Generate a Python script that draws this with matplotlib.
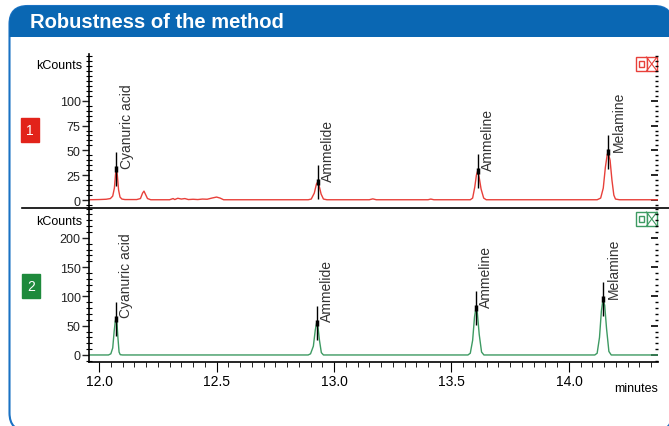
import matplotlib
matplotlib.use('Agg')
import matplotlib.pyplot as plt
from matplotlib.patches import FancyBboxPatch, Rectangle
from matplotlib.ticker import MultipleLocator

plt.rcParams['font.family'] = ['Liberation Sans', 'DejaVu Sans']

# data
peak_names = ['Cyanuric acid', 'Ammelide', 'Ammeline', 'Melamine']

t1 = [11.957, 12.00, 12.03, 12.048, 12.058, 12.065, 12.070, 12.074, 12.078, 12.083, 12.089, 12.097,
      12.110, 12.160, 12.176, 12.185, 12.191, 12.197, 12.206, 12.220, 12.300, 12.315, 12.322, 12.335,
      12.350, 12.365, 12.380, 12.400, 12.420, 12.440, 12.460, 12.480, 12.500, 12.515, 12.530, 12.890,
      12.903, 12.916, 12.925, 12.930, 12.936, 12.945, 12.955, 12.970, 13.150, 13.165, 13.180, 13.400,
      13.412, 13.425, 13.580, 13.590, 13.599, 13.606, 13.611, 13.617, 13.626, 13.637, 13.648, 14.120,
      14.135, 14.146, 14.155, 14.163, 14.167, 14.175, 14.183, 14.191, 14.198, 14.215, 14.379]
y1 = [0.3, 0.5, 0.8, 1.5, 4, 12, 26, 33, 24, 10, 3, 1,
      0.5, 0.5, 1.5, 7, 9, 6, 1.5, 0.3, 0.3, 1.5, 0.5, 1.8,
      1.0, 1.5, 0.5, 0.8, 0.5, 1.0, 0.8, 2.0, 3.0, 2.0, 0.3, 0.3,
      1, 7, 16, 18, 15, 6, 1, 0.3, 0.3, 1.2, 0.3, 0.3,
      1.0, 0.3, 0.3, 2, 13, 25, 29, 24, 11, 2, 0.3, 0.3,
      2, 12, 33, 46, 48, 40, 20, 5, 1, 0.3, 0.3]
rt1 = [12.074, 12.930, 13.611, 14.167]
h1 = [31, 18, 29, 48]

t2 = [11.957, 12.040, 12.050, 12.058, 12.064, 12.069, 12.072, 12.076, 12.080, 12.085, 12.090, 12.100,
      12.890, 12.900, 12.912, 12.920, 12.926, 12.931, 12.938, 12.946, 12.955, 13.570, 13.580, 13.590,
      13.598, 13.604, 13.610, 13.618, 13.628, 13.638, 14.110, 14.120, 14.130, 14.138, 14.145, 14.152,
      14.160, 14.170, 14.180, 14.379]
y2 = [0, 0, 2, 12, 40, 58, 62, 55, 30, 5, 0.5, 0,
      0, 2, 15, 42, 55, 50, 25, 4, 0, 0, 3, 25,
      65, 80, 72, 35, 5, 0, 0, 3, 30, 75, 95, 85,
      45, 6, 0, 0]
rt2 = [12.071, 12.927, 13.604, 14.146]
h2 = [62, 55, 80, 95]

x_ticks = [12.0, 12.5, 13.0, 13.5, 14.0]
y1_ticks = [0, 25, 50, 75, 100]
y2_ticks = [0, 50, 100, 150, 200]

blue = '#0a67b3'
red = '#e8403a'
green = '#3d9a62'

fig = plt.figure(figsize=(6.69, 4.27), dpi=100)

# frame / header in pixel coords
bg = fig.add_axes([0, 0, 1, 1])
bg.set_xlim(0, 669)
bg.set_ylim(427, 0)
bg.axis('off')
frame = FancyBboxPatch((9.5, 7), 663, 425, boxstyle='round,pad=0,rounding_size=18',
                       fc='white', ec='#1a72c4', lw=1.5)
bg.add_patch(frame)
head = Rectangle((0, 0), 700, 37.5, fc=blue, ec='none')
bg.add_patch(head)
head.set_clip_path(frame)
bg.text(30, 22, 'Robustness of the method', color='white', fontsize=14.5,
        fontweight='bold', va='center', ha='left')
bg.plot([22, 669], [209, 209], color='black', lw=1.2)
bg.text(30, 131, '1', color='white', fontsize=10, ha='center', va='center',
        bbox=dict(boxstyle='square,pad=0.35', fc='#e2231a', ec='#e2231a'))
bg.text(31, 287, '2', color='white', fontsize=10, ha='center', va='center',
        bbox=dict(boxstyle='square,pad=0.35', fc='#1e8a3c', ec='#1e8a3c'))

for col, top in [(red, 58), (green, 213)]:
    bg.add_patch(Rectangle((636, top), 10.5, 14, fc='white', ec=col, lw=1))
    bg.add_patch(Rectangle((646.5, top), 10.5, 14, fc='white', ec=col, lw=1))
    bg.add_patch(Rectangle((639.3, top + 4), 5, 6, fc='none', ec=col, lw=1))
    bg.plot([646.5, 657], [top, top + 14], color=col, lw=0.8)
    bg.plot([646.5, 657], [top + 14, top], color=col, lw=0.8)

ax1 = fig.add_axes([89 / 669, 1 - 209 / 427, 569 / 669, 154 / 427])
ax2 = fig.add_axes([89 / 669, 1 - 363 / 427, 569 / 669, 154 / 427])


def style(ax, t, y, rt, h, col, ylim, yticks, minor):
    ax.patch.set_alpha(0)
    ax.plot(t, y, color=col, lw=1)
    ax.plot(rt, h, ls='none', marker='|', ms=25, mew=1, color='black')
    ax.plot(rt, h, ls='none', marker='|', ms=5, mew=2.5, color='black')
    for name, x, yy in zip(peak_names, rt, h):
        ax.annotate(name, (x, yy), xytext=(7.5, 1), textcoords='offset points',
                    rotation=90, ha='center', va='bottom', fontsize=10, color='#333333')
    ax.set_xlim(11.957, 14.379)
    ax.set_ylim(*ylim)
    ax.set_yticks(yticks)
    ax.yaxis.set_minor_locator(MultipleLocator(minor))
    ax.tick_params(axis='y', which='major', direction='out', length=5, width=1,
                   labelsize=9, pad=1, colors='#222222')
    ax.tick_params(axis='y', which='minor', direction='inout', length=5, width=0.8)
    for s in ['top', 'right', 'bottom']:
        ax.spines[s].set_visible(False)
    ax.spines['left'].set_linewidth(1.2)
    sec = ax.secondary_yaxis('right')
    sec.spines['right'].set_visible(False)
    sec.set_yticks(yticks)
    sec.yaxis.set_minor_locator(MultipleLocator(minor))
    sec.tick_params(axis='y', which='major', direction='in', length=5, width=1.2, labelright=False)
    sec.tick_params(axis='y', which='minor', direction='in', length=2, width=1, labelright=False)


style(ax1, t1, y1, rt1, h1, red, (-8, 147), y1_ticks, 5)
style(ax2, t2, y2, rt2, h2, green, (-12, 251), y2_ticks, 10)

ax1.set_xticks([])
ax1.text(-0.012, 0.929, 'kCounts', transform=ax1.transAxes, ha='right', va='center', fontsize=9)
ax2.text(-0.012, 0.916, 'kCounts', transform=ax2.transAxes, ha='right', va='center', fontsize=9)

ax2.spines['bottom'].set_visible(True)
ax2.spines['bottom'].set_linewidth(1.2)
ax2.set_xticks(x_ticks)
ax2.set_xticklabels(['%.1f' % v for v in x_ticks])
ax2.xaxis.set_minor_locator(MultipleLocator(0.05))
ax2.tick_params(axis='x', which='major', direction='out', length=7, labelsize=10, pad=2)
ax2.tick_params(axis='x', which='minor', direction='out', length=3.5)
ax2.text(1.0, -0.17, 'minutes', transform=ax2.transAxes, ha='right', va='center', fontsize=9)

fig.savefig('out.png', dpi=100)
